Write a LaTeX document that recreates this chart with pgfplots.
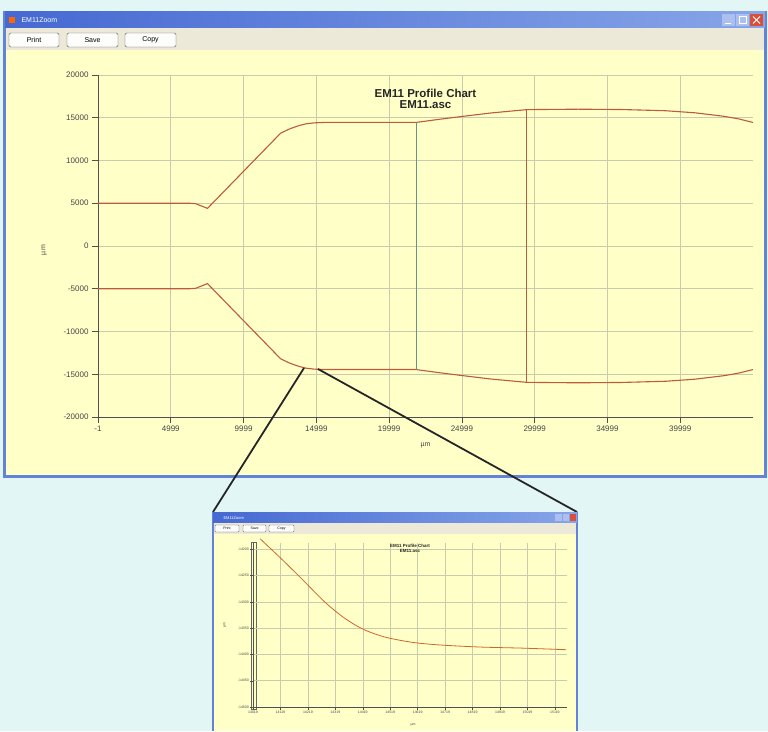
\documentclass[border=0pt]{standalone}
\usepackage{pgfplots}
\pgfplotsset{compat=1.18}
\usepackage{fontspec}
\setmainfont{Liberation Sans}
\definecolor{bgcyan}{RGB}{226,246,246}
\definecolor{plotbg}{RGB}{255,255,200}
\definecolor{winblue}{RGB}{100,130,215}
\definecolor{titleA}{RGB}{70,105,210}
\definecolor{titleB}{RGB}{135,165,232}
\definecolor{barbeige}{RGB}{236,233,216}
\definecolor{gridc}{RGB}{200,204,172}
\definecolor{profred}{RGB}{190,90,62}
\definecolor{tealc}{RGB}{104,146,140}
\definecolor{axisgray}{RGB}{80,80,80}
\definecolor{labelgray}{RGB}{70,70,70}
\definecolor{closered}{RGB}{215,80,60}

\pgfplotstableread{
x y
-1 5000
6300 5000
6700 4950
7520 4400
12550 13200
13200 13720
13800 14080
14300 14290
14830 14400
15500 14450
21850 14450
23500 14830
25000 15150
27000 15560
29470 15950
33000 16000
36000 15960
39000 15820
41000 15580
43000 15170
44000 14870
44999 14450
}\uppertab

\pgfplotstableread{
x y
-1 -5000
6300 -5000
6700 -4950
7520 -4400
12550 -13200
13200 -13720
13800 -14080
14300 -14290
14830 -14400
15500 -14450
21850 -14450
23500 -14830
25000 -15150
27000 -15560
29470 -15950
33000 -16000
36000 -15960
39000 -15820
41000 -15580
43000 -15170
44000 -14870
44999 -14450
}\lowertab

\pgfplotstableread{
x y
14045 -14180
14130 -14222
14200 -14258
14280 -14300
14350 -14330
14420 -14352
14500 -14367
14600 -14377
14700 -14382
14850 -14386
15000 -14388
15160 -14391
}\zoomcurve

\begin{document}
\begin{tikzpicture}[x=1pt,y=1pt]
\useasboundingbox (0,0) rectangle (768,731);
\fill[bgcyan] (0,0) rectangle (768,731);

% ---------- main window ----------
\fill[winblue] (3,253) rectangle (767,720);
\shade[left color=titleA, right color=titleB] (5,703) rectangle (765,719);
\fill[barbeige] (6,681) rectangle (764,703);
\fill[plotbg] (6,256) rectangle (764,681);
\node[anchor=west, text=white, font=\fontsize{7}{8}\selectfont] at (18,711) {EM11Zoom};
\fill[orange!80!red] (9,708) rectangle (15,714);
% window controls
\fill[titleB!70!white] (722,705) rectangle (735,717);
\fill[titleB!70!white] (736,705) rectangle (749,717);
\fill[closered] (750,705) rectangle (763,717);
\draw[white, line width=0.8pt] (725,707.5) -- (731,707.5);
\draw[white, line width=0.8pt] (739,707.5) rectangle (746,714.5);
\draw[white, line width=0.8pt] (753,707.5) -- (760,714.5) (753,714.5) -- (760,707.5);
% buttons
\foreach \a/\b/\t in {9/59/Print,67/118/Save,125/176/Copy}{
  \draw[gray!70!black, fill=white!92!barbeige, rounded corners=1.5pt] (\a,684) rectangle (\b,698);
  \node[font=\fontsize{7}{8}\selectfont, text=black] at ({(\a+\b)/2},691) {\t};
}

\begin{axis}[
  at={(98pt,314pt)}, anchor=south west,
  scale only axis, width=655pt, height=342pt,
  xmin=-1, xmax=44999, ymin=-20000, ymax=20000,
  scaled ticks=false,
  axis lines=left,
  axis line style={-, draw=axisgray, line width=0.8pt},
  xtick={-1,4999,9999,14999,19999,24999,29999,34999,39999},
  xticklabels={-1,4999,9999,14999,19999,24999,29999,34999,39999},
  ytick={-20000,-15000,-10000,-5000,0,5000,10000,15000,20000},
  yticklabels={-20000,-15000,-10000,-5000,0,5000,10000,15000,20000},
  tick align=outside,
  major tick length=6pt,
  tick style={draw=axisgray, line width=0.7pt},
  tick label style={font=\fontsize{8}{9}\selectfont, text=labelgray},
  xticklabel style={yshift=1pt},
  grid=major,
  major grid style={draw=gridc, line width=0.7pt},
  title={EM11 Profile Chart\\EM11.asc},
  title style={at={(axis description cs:0.5,0.912)}, anchor=center, align=center,
               font=\fontsize{11.5}{11.5}\selectfont\bfseries, text=black!85},
  xlabel={µm}, ylabel={µm},
  xlabel style={at={(axis description cs:0.5,-0.082)}, anchor=center,
                font=\fontsize{7}{8}\selectfont, text=labelgray},
  ylabel style={at={(axis description cs:-0.082,0.488)}, anchor=center, rotate=0,
                font=\fontsize{7}{8}\selectfont, text=labelgray},
  clip=false,
]
\addplot[profred, line width=1.1pt, no markers] table[x=x, y=y] {\uppertab};
\addplot[profred, line width=1.1pt, no markers] table[x=x, y=y] {\lowertab};
\addplot[tealc, line width=1pt, no markers] coordinates {(21850,14450) (21850,-14450)};
\addplot[profred, line width=1pt, no markers] coordinates {(29470,15950) (29470,-15950)};
\end{axis}

% ---------- zoom connector lines ----------
\draw[black!85, line width=1.8pt] (304,363) -- (213,219);
\draw[black!85, line width=1.8pt] (318,362) -- (577,219);

% ---------- inset window ----------
\fill[winblue] (212,0) rectangle (578,219);
\shade[left color=titleA, right color=titleB] (213,208) rectangle (577,218);
\fill[barbeige] (214,197) rectangle (576,208);
\fill[plotbg] (214,0) rectangle (576,197);
\node[anchor=west, text=white, font=\fontsize{4}{5}\selectfont] at (220,213) {EM11Zoom};
\fill[titleB!70!white] (555,209.5) rectangle (562,216.5);
\fill[titleB!70!white] (563,209.5) rectangle (569,216.5);
\fill[closered] (570,209.5) rectangle (576,216.5);
\foreach \a/\b/\t in {215/239/Print,243/266/Save,269/294/Copy}{
  \draw[gray!70!black, fill=white!92!barbeige, rounded corners=0.8pt] (\a,199) rectangle (\b,206);
  \node[font=\fontsize{3.5}{4}\selectfont, text=black] at ({(\a+\b)/2},202.5) {\t};
}
\draw[gray!80!black, line width=0.5pt, fill=plotbg] (251.5,22) rectangle (256.5,189);

\begin{axis}[
  at={(253pt,24pt)}, anchor=south west,
  scale only axis, width=314pt, height=164pt,
  xmin=14019, xmax=15163, ymin=-14500, ymax=-14188,
  scaled ticks=false,
  axis lines=left,
  axis line style={-, draw=axisgray, line width=0.5pt},
  xtick={14019,14119,14219,14319,14419,14519,14619,14719,14819,14919,15019,15119},
  xticklabels={14019,14119,14219,14319,14419,14519,14619,14719,14819,14919,15019,15119},
  ytick={-14500,-14450,-14400,-14350,-14300,-14250,-14200},
  yticklabels={-14500,-14450,-14400,-14350,-14300,-14250,-14200},
  tick align=outside,
  major tick length=3pt,
  tick style={draw=axisgray, line width=0.4pt},
  tick label style={font=\fontsize{3.5}{4}\selectfont, text=labelgray, inner sep=1pt},
  grid=major,
  major grid style={draw=gridc, line width=0.5pt},
  title={EM11 Profile Chart\\EM11.asc},
  title style={at={(axis description cs:0.5,0.93)}, anchor=center, align=center,
               font=\fontsize{4.5}{4.5}\selectfont\bfseries, text=black!85},
  xlabel={µm}, ylabel={µm},
  xlabel style={at={(axis description cs:0.51,-0.11)}, anchor=center,
                font=\fontsize{3.5}{4}\selectfont, text=labelgray},
  ylabel style={at={(axis description cs:-0.09,0.5)}, anchor=center, rotate=0,
                font=\fontsize{3.5}{4}\selectfont, text=labelgray},
  clip=false,
]
\addplot[profred!70!orange, line width=0.8pt, no markers, smooth] table[x=x, y=y] {\zoomcurve};
\end{axis}
\end{tikzpicture}
\end{document}
